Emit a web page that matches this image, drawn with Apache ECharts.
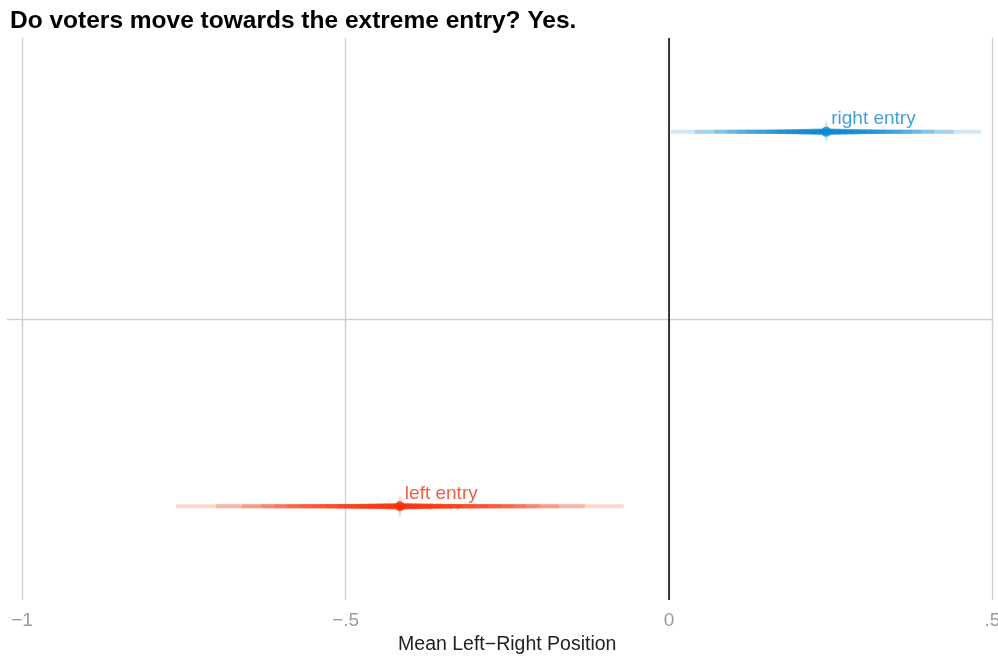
<!DOCTYPE html>
<html>
<head>
<meta charset="utf-8">
<script src="https://cdn.jsdelivr.net/npm/echarts@6/dist/echarts.min.js"></script>
<style>
  html, body { margin: 0; padding: 0; background: #fff; }
  #chart { width: 998px; height: 658px; }
</style>
</head>
<body>
<div id="chart"></div>
<script>
// Posterior summaries of the mean left-right position by entry condition
const categories = ['left entry', 'right entry'];
const rowPos = [-0.5, 0.5];
const means = [-0.416, 0.243];

// nested credible intervals, widest first
const intervalLevels = [0.995, 0.99, 0.98, 0.97, 0.95, 0.93, 0.9, 0.87, 0.83, 0.78, 0.72, 0.65, 0.55, 0.45, 0.33, 0.2];
const leftLower  = [-0.762, -0.70, -0.66, -0.63, -0.61, -0.59, -0.57, -0.55, -0.53, -0.51, -0.495, -0.48, -0.465, -0.45, -0.44, -0.43];
const leftUpper  = [-0.070, -0.13, -0.17, -0.20, -0.22, -0.24, -0.26, -0.28, -0.30, -0.32, -0.335, -0.35, -0.365, -0.38, -0.39, -0.40];
const rightLower = [0.003, 0.04, 0.07, 0.09, 0.105, 0.12, 0.135, 0.15, 0.16, 0.17, 0.18, 0.19, 0.20, 0.21, 0.22, 0.23];
const rightUpper = [0.482, 0.44, 0.41, 0.39, 0.375, 0.36, 0.345, 0.335, 0.325, 0.315, 0.305, 0.295, 0.285, 0.275, 0.265, 0.255];

const xTickValues = [-1, -0.5, 0, 0.5];
const xTickLabels = ['\u22121', '\u2212.5', '0', '.5'];

const colors = ['#f8300a', '#0b88d1'];
const labelColors = ['#ec3516', '#1288d0'];
const bandThickness = [4, 4, 4, 4, 4, 4, 4, 4, 4.5, 5, 5, 5.5, 6, 6, 6.5, 6.5];

const bounds = [[leftLower, leftUpper], [rightLower, rightUpper]];

function intervalSeries(k) {
  const rows = intervalLevels.map((lvl, i) => [bounds[k][0][i], bounds[k][1][i], rowPos[k], lvl]);
  return {
    type: 'custom',
    name: categories[k],
    data: rows,
    encode: { x: [0, 1], y: 2 },
    silent: true,
    z: 3,
    renderItem: function (params, api) {
      const a = api.coord([api.value(0), api.value(2)]);
      const b = api.coord([api.value(1), api.value(2)]);
      const h = bandThickness[params.dataIndex];
      return {
        type: 'rect',
        shape: { x: a[0], y: a[1] - h / 2, width: b[0] - a[0], height: h },
        style: { fill: colors[k], opacity: 0.2 }
      };
    }
  };
}

const font = '"Liberation Sans", Arial, Helvetica, sans-serif';

const series = [intervalSeries(0), intervalSeries(1)];

categories.forEach((name, k) => {
  // soft halo around the point estimate
  series.push({
    type: 'scatter',
    data: [[means[k], rowPos[k]]],
    symbol: 'diamond',
    symbolSize: [7, 24],
    itemStyle: { color: colors[k], opacity: 0.2 },
    silent: true,
    z: 4
  });
  series.push({
    type: 'scatter',
    data: [[means[k], rowPos[k]]],
    symbol: 'circle',
    symbolSize: 10,
    itemStyle: { color: colors[k] },
    silent: true,
    z: 5,
    label: {
      show: true,
      formatter: name,
      position: 'right',
      distance: 0,
      offset: [0, -13],
      color: labelColors[k],
      fontFamily: font,
      fontSize: 19
    }
  });
});

// grid line through the middle and reference line at zero
series.push({
  type: 'line',
  data: [],
  markLine: {
    silent: true,
    symbol: 'none',
    label: { show: false },
    data: [
      { yAxis: 0, lineStyle: { color: '#cfcfcf', width: 1.3, type: 'solid' } },
      { xAxis: 0, lineStyle: { color: '#000', width: 1.5, type: 'solid' } }
    ]
  },
  z: 2
});

const chart = echarts.init(document.getElementById('chart'), null, { renderer: 'canvas' });
chart.setOption({
  animation: false,
  backgroundColor: '#fff',
  title: {
    text: 'Do voters move towards the extreme entry? Yes.',
    left: 5,
    top: 4,
    textStyle: { fontFamily: font, fontSize: 24.5, fontWeight: 'bold', color: '#000' }
  },
  grid: { left: 22, right: 5.5, top: 38, bottom: 58, outerBoundsMode: 'none', containLabel: false },
  xAxis: {
    type: 'value',
    min: -1,
    max: 0.5,
    interval: 0.5,
    name: 'Mean Left\u2212Right Position',
    nameLocation: 'middle',
    nameGap: 33,
    nameTextStyle: { fontFamily: font, fontSize: 19.5, color: '#222' },
    axisLine: { show: false },
    axisTick: { show: true, length: 8, lineStyle: { color: '#cfcfcf', width: 1.3 } },
    axisLabel: {
      margin: 11,
      fontFamily: font,
      fontSize: 19,
      color: '#9a9a9a',
      formatter: function (v) {
        const i = xTickValues.findIndex(t => Math.abs(t - v) < 1e-9);
        return i >= 0 ? xTickLabels[i] : '';
      }
    },
    splitLine: { show: true, lineStyle: { color: '#cfcfcf', width: 1.3 } }
  },
  yAxis: {
    type: 'value',
    min: -0.75,
    max: 0.75,
    interval: 0.75,
    axisLine: { show: false, onZero: false },
    axisLabel: { show: false },
    axisTick: { show: true, length: 15, customValues: [0], lineStyle: { color: '#cfcfcf', width: 1.3 } },
    splitLine: { show: false }
  },
  series: series
});
</script>
</body>
</html>
